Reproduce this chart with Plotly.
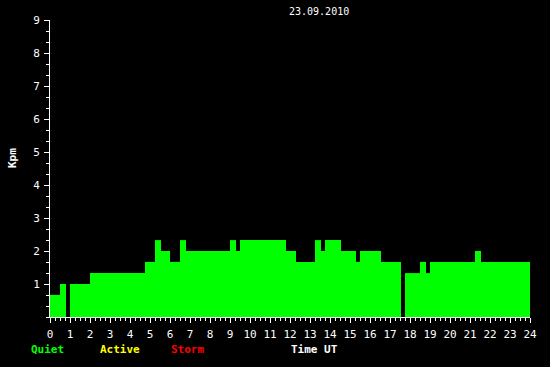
import plotly.graph_objects as go

# Kpm index, 23.09.2010 — segments (start hour, end hour, value)
seg_start = [0, 0.5, 1.0, 2.0, 4.75, 5.25, 5.55, 6.0, 6.5, 6.8, 9.0, 9.3, 9.5, 11.8,
             12.3, 13.25, 13.55, 13.75, 14.55, 15.3, 15.5, 16.55, 17.75, 18.5, 18.8,
             19.0, 21.25, 21.55]
seg_end = [0.5, 0.8, 2.0, 4.75, 5.25, 5.55, 6.0, 6.5, 6.8, 9.0, 9.3, 9.5, 11.8, 12.3,
           13.25, 13.55, 13.75, 14.55, 15.3, 15.5, 16.55, 17.55, 18.5, 18.8, 19.0,
           21.25, 21.55, 24.0]
kpm = [0.67, 1.0, 1.0, 1.33, 1.67, 2.33, 2.0, 1.67, 2.33, 2.0, 2.33, 2.0, 2.33, 2.0,
       1.67, 2.33, 2.0, 2.33, 2.0, 1.67, 2.0, 1.67, 1.33, 1.67, 1.33, 1.67, 2.0, 1.67]

x_ticks = list(range(0, 25))
y_ticks = list(range(0, 10))
date_label = "23.09.2010"
legend_items = [("Quiet", "#00FF00"), ("Active", "#FFFF00"), ("Storm", "#FF0000")]

centers = [(a + b) / 2 for a, b in zip(seg_start, seg_end)]
widths = [b - a for a, b in zip(seg_start, seg_end)]

FONT = "DejaVu Sans Mono"

fig = go.Figure(go.Bar(
    x=centers, y=kpm, width=widths,
    marker=dict(color="#00FF00", line=dict(width=0)),
    hoverinfo="skip",
))

fig.update_layout(
    width=550, height=367,
    margin=dict(l=50, r=20, t=20, b=50),
    paper_bgcolor="#000000", plot_bgcolor="#000000",
    showlegend=False,
    font=dict(family=FONT, color="white", size=10),
)

fig.update_xaxes(
    range=[0, 24], tickvals=x_ticks, ticktext=[str(v) for v in x_ticks],
    showgrid=False, zeroline=False,
    showline=True, linecolor="white", linewidth=1, layer="below traces",
    ticks="outside", ticklen=5, tickcolor="white", tickwidth=1,
    minor=dict(dtick=0.25, ticks="outside", ticklen=3, tickcolor="white", tickwidth=1),
    tickfont=dict(family=FONT, size=11, color="white"),
    ticklabelstandoff=2,
)
fig.update_yaxes(
    range=[0, 9], tickvals=y_ticks[1:], ticktext=[str(v) for v in y_ticks[1:]],
    showgrid=False, zeroline=False,
    showline=True, linecolor="white", linewidth=1, layer="below traces",
    ticks="outside", ticklen=5, tickcolor="white", tickwidth=1,
    minor=dict(dtick=1/3, ticks="outside", ticklen=3, tickcolor="white", tickwidth=1),
    tickfont=dict(family=FONT, size=11, color="white"),
    ticklabelstandoff=2,
)

def px_x(px):
    return (px - 50) / 480

def px_y(py):
    return (317 - py) / 297

anns = [
    dict(text=date_label, x=px_x(319), y=px_y(12), font=dict(size=10, color="white")),
    dict(text="<b>Kpm</b>", x=px_x(12), y=px_y(158), textangle=-90,
         font=dict(size=11, color="white")),
    dict(text="<b>Time UT</b>", x=px_x(314), y=px_y(349), font=dict(size=11, color="white")),
]
for (label, col), cx in zip(legend_items, [47, 120, 187]):
    anns.append(dict(text=f"<b>{label}</b>", x=px_x(cx), y=px_y(349),
                     font=dict(size=11, color=col)))
for a in anns:
    a.update(xref="paper", yref="paper", showarrow=False, xanchor="center", yanchor="middle")
    a["font"]["family"] = FONT
fig.update_layout(annotations=anns)

fig.write_html("out.html")
